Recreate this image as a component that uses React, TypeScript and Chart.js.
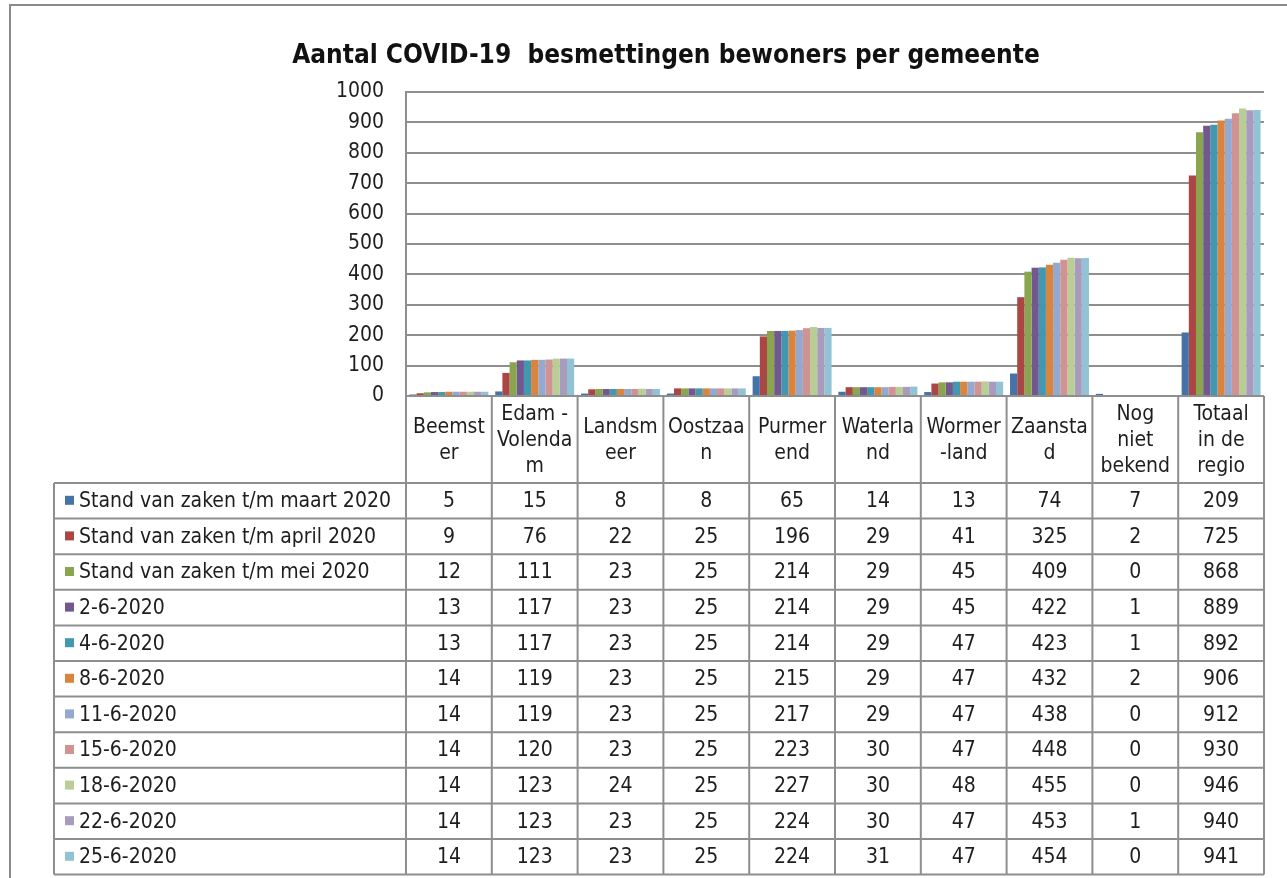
import React, { useEffect, useRef } from "react";
import { Chart, registerables } from "chart.js";

Chart.register(...registerables);

const chartTitle = "Aantal COVID-19  besmettingen bewoners per gemeente";

const categories = [
  "Beemster",
  "Edam-Volendam",
  "Landsmeer",
  "Oostzaan",
  "Purmerend",
  "Waterland",
  "Wormerland",
  "Zaanstad",
  "Nog niet bekend",
  "Totaal in de regio",
];

const categoryLabelLines = [
  ["Beemst", "er"],
  ["Edam -", "Volenda", "m"],
  ["Landsm", "eer"],
  ["Oostzaa", "n"],
  ["Purmer", "end"],
  ["Waterla", "nd"],
  ["Wormer", "-land"],
  ["Zaansta", "d"],
  ["Nog", "niet", "bekend"],
  ["Totaal", "in de", "regio"],
];

const seriesLabels = [
  "Stand van zaken t/m maart 2020",
  "Stand van zaken t/m april 2020",
  "Stand van zaken t/m mei 2020",
  "2-6-2020",
  "4-6-2020",
  "8-6-2020",
  "11-6-2020",
  "15-6-2020",
  "18-6-2020",
  "22-6-2020",
  "25-6-2020",
];

const seriesColors = [
  "#4572A7",
  "#AA4643",
  "#89A54E",
  "#71588F",
  "#4198AF",
  "#DB843D",
  "#93A9CF",
  "#D19392",
  "#B9CD96",
  "#A99BBD",
  "#91C3D5",
];

const maart2020 = [5, 15, 8, 8, 65, 14, 13, 74, 7, 209];
const april2020 = [9, 76, 22, 25, 196, 29, 41, 325, 2, 725];
const mei2020 = [12, 111, 23, 25, 214, 29, 45, 409, 0, 868];
const d2_6 = [13, 117, 23, 25, 214, 29, 45, 422, 1, 889];
const d4_6 = [13, 117, 23, 25, 214, 29, 47, 423, 1, 892];
const d8_6 = [14, 119, 23, 25, 215, 29, 47, 432, 2, 906];
const d11_6 = [14, 119, 23, 25, 217, 29, 47, 438, 0, 912];
const d15_6 = [14, 120, 23, 25, 223, 30, 47, 448, 0, 930];
const d18_6 = [14, 123, 24, 25, 227, 30, 48, 455, 0, 946];
const d22_6 = [14, 123, 23, 25, 224, 30, 47, 453, 1, 940];
const d25_6 = [14, 123, 23, 25, 224, 31, 47, 454, 0, 941];

const seriesValues = [maart2020, april2020, mei2020, d2_6, d4_6, d8_6, d11_6, d15_6, d18_6, d22_6, d25_6];

const yTickValues = [0, 100, 200, 300, 400, 500, 600, 700, 800, 900, 1000];
const yTickLabels = ["0", "100", "200", "300", "400", "500", "600", "700", "800", "900", "1000"];

const W = 1287;
const H = 878;
const FONT = "'DejaVu Sans Condensed', 'Liberation Sans Narrow', 'DejaVu Sans', sans-serif";
const TEXT = "#1e1e1e";
const LINE = "#8e8e8e";
const FS = 21;

const tablePlugin = {
  id: "dataTable",
  afterDraw(chart: any) {
    const { ctx, chartArea } = chart;
    const xs = chart.scales.x;
    const n = categories.length;
    const colW = chartArea.width / n;
    const headerTop = chartArea.bottom;
    const headerBottom = 483;
    const rowH = 35.6;
    const legendLeft = 54;
    const tableBottom = headerBottom + rowH * seriesLabels.length;
    const right = chartArea.right;

    ctx.save();
    // title
    ctx.fillStyle = "#111";
    ctx.font = "bold 26px " + FONT;
    ctx.textAlign = "center";
    ctx.textBaseline = "alphabetic";
    ctx.fillText(chartTitle, 666, 63);

    ctx.strokeStyle = LINE;
    ctx.lineWidth = 2;
    ctx.beginPath();
    ctx.moveTo(chartArea.left, headerTop);
    ctx.lineTo(right, headerTop);
    ctx.moveTo(legendLeft, headerBottom);
    ctx.lineTo(right, headerBottom);
    for (let r = 1; r <= seriesLabels.length; r++) {
      const y = headerBottom + r * rowH;
      ctx.moveTo(legendLeft, y);
      ctx.lineTo(right, y);
    }
    for (let i = 0; i <= n; i++) {
      const x = chartArea.left + i * colW;
      ctx.moveTo(x, headerTop);
      ctx.lineTo(x, tableBottom);
    }
    ctx.moveTo(legendLeft, headerBottom);
    ctx.lineTo(legendLeft, tableBottom);
    ctx.stroke();

    // header labels
    ctx.fillStyle = TEXT;
    ctx.font = FS + "px " + FONT;
    ctx.textAlign = "center";
    ctx.textBaseline = "middle";
    const lh = 26;
    const hc = (headerTop + headerBottom) / 2;
    for (let i = 0; i < n; i++) {
      const cx = xs.getPixelForValue(i);
      const lines = categoryLabelLines[i];
      const start = hc - ((lines.length - 1) * lh) / 2;
      lines.forEach((t, k) => ctx.fillText(t, cx, start + k * lh + 1));
    }

    // rows
    for (let r = 0; r < seriesLabels.length; r++) {
      const cy = headerBottom + r * rowH + rowH / 2;
      ctx.fillStyle = seriesColors[r];
      ctx.fillRect(legendLeft + 11, cy - 5, 9, 9);
      ctx.fillStyle = TEXT;
      ctx.textAlign = "left";
      ctx.fillText(seriesLabels[r], legendLeft + 25, cy + 1);
      ctx.textAlign = "center";
      for (let i = 0; i < n; i++) {
        ctx.fillText(String(seriesValues[r][i]), xs.getPixelForValue(i), cy + 1);
      }
    }
    ctx.restore();
  },
};

export default function App() {
  const ref = useRef<HTMLCanvasElement | null>(null);

  useEffect(() => {
    if (!ref.current) return;
    const chart = new Chart(ref.current, {
      type: "bar",
      data: {
        labels: categories,
        datasets: seriesLabels.map((label, i) => ({
          label,
          data: seriesValues[i],
          backgroundColor: seriesColors[i],
          borderWidth: 0,
          barPercentage: 1,
          categoryPercentage: 0.92,
        })),
      },
      options: {
        animation: false,
        responsive: false,
        maintainAspectRatio: false,
        layout: { padding: { left: 0, top: 92, right: 23, bottom: H - 396 } },
        plugins: {
          legend: { display: false },
          title: { display: false },
          tooltip: { enabled: false },
        },
        scales: {
          x: {
            type: "category",
            display: false,
            grid: { display: false },
          },
          y: {
            min: 0,
            max: 1000,
            afterFit: (scale: any) => {
              scale.width = 406;
            },
            afterBuildTicks: (scale: any) => {
              scale.ticks = yTickValues.map((v) => ({ value: v }));
            },
            ticks: {
              color: TEXT,
              padding: 22,
              font: { family: FONT, size: FS },
              callback: (_v: any, idx: number) => yTickLabels[idx],
            },
            grid: {
              color: LINE,
              lineWidth: 2,
              drawTicks: false,
            },
            border: { display: true, color: LINE, width: 2 },
          },
        },
      },
      plugins: [tablePlugin],
    });
    return () => chart.destroy();
  }, []);

  return (
    <div style={{ position: "absolute", left: 0, top: 0, width: W, height: H, background: "#fff", overflow: "hidden" }}>
      <div
        style={{
          position: "absolute",
          left: 9,
          top: 4,
          width: W,
          height: H,
          borderLeft: "2px solid #8a8a8a",
          borderTop: "2px solid #8a8a8a",
        }}
      />
      <canvas ref={ref} width={W} height={H} style={{ position: "absolute", left: 0, top: 0, width: W, height: H }} />
    </div>
  );
}
